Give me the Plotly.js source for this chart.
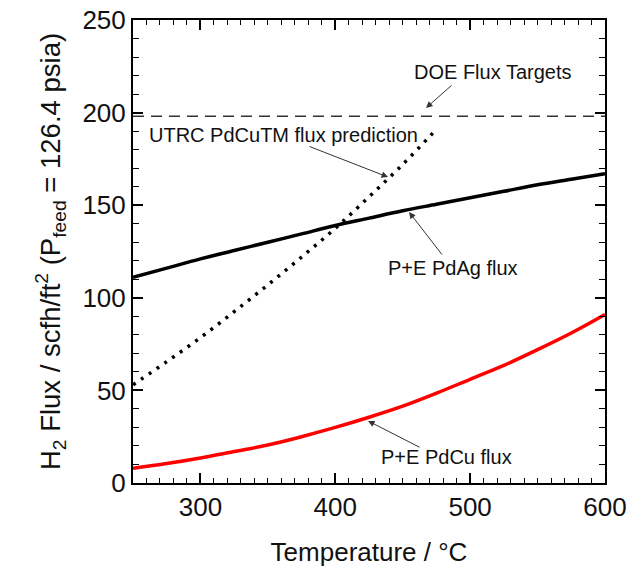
<!DOCTYPE html>
<html>
<head>
<meta charset="utf-8">
<script src="https://cdn.plot.ly/plotly-3.0.1.min.js"></script>
<style>html,body{margin:0;padding:0;background:#fff;}#chart{width:639px;height:577px;}</style>
</head>
<body>
<div id="chart"></div>
<script>
// Temperature (°C)
const temps = [250, 275, 300, 325, 350, 375, 400, 425, 450, 475, 500, 525, 550, 575, 600];
// P+E PdAg flux (scfh/ft2)
const pdAgFlux = [111, 116, 121, 125.5, 130, 134.5, 139, 143, 147, 150.5, 154, 157.5, 161, 164, 167];
// P+E PdCu flux
const pdCuFlux = [8, 10.5, 13.5, 17, 20.5, 25, 30, 35.5, 41.5, 48.5, 56, 63.5, 72, 81, 91];
// UTRC PdCuTM flux prediction
const utrcTemps = [250, 275, 300, 325, 350, 375, 400, 425, 450, 475];
const utrcFlux = [53, 65.5, 78.5, 92.5, 107, 122, 137.5, 154.5, 172, 191];
// DOE flux target
const doeTemps = [250, 600];
const doeFlux = [198, 198];

const font = "Liberation Sans, Arial, sans-serif";

const traces = [
  {x: doeTemps, y: doeFlux, mode: 'lines', line: {color: '#333', width: 1.6, dash: '11px,7px'}, hoverinfo: 'skip'},
  {x: utrcTemps, y: utrcFlux, mode: 'lines', line: {color: '#000', width: 3.5, dash: '3px,6.5px', shape: 'spline'}},
  {x: temps, y: pdAgFlux, mode: 'lines', line: {color: '#000', width: 3.5, shape: 'spline'}},
  {x: temps, y: pdCuFlux, mode: 'lines', line: {color: '#ff0000', width: 3.5, shape: 'spline'}}
];

function arrow(hx, hy, tx, ty) {
  return {x: hx, y: hy, ax: tx, ay: ty, xref: 'x', yref: 'y', axref: 'x', ayref: 'y',
    text: '', showarrow: true, arrowhead: 2, arrowsize: 1.3, arrowwidth: 1, arrowcolor: '#333'};
}
function label(x, y, text, anchor) {
  return {x: x, y: y, xref: 'x', yref: 'y', text: text, showarrow: false,
    xanchor: anchor || 'center', yanchor: 'middle', font: {family: font, size: 20, color: '#111'}};
}

const annotations = [
  label(516.9, 221.9, 'DOE Flux Targets'),
  arrow(467.3, 202.5, 487.3, 215.4),
  label(260.4, 187.9, 'UTRC PdCuTM flux prediction', 'left'),
  arrow(439.1, 165.2, 379.8, 182),
  label(487.3, 116.1, 'P+E PdAg flux'),
  arrow(454.7, 146.3, 479.9, 122.6),
  label(482.5, 14.0, 'P+E PdCu flux'),
  arrow(424.3, 33.5, 463.6, 18.9)
];

const layout = {
  width: 639, height: 577,
  margin: {l: 133, r: 34, t: 20, b: 94},
  paper_bgcolor: 'white', plot_bgcolor: 'white',
  showlegend: false,
  font: {family: font, color: '#111'},
  xaxis: {
    range: [250, 600], tickmode: 'linear', tick0: 300, dtick: 100,
    ticks: 'inside', ticklen: 10, tickwidth: 2, tickcolor: 'black',
    minor: {dtick: 10, ticks: 'inside', ticklen: 5, tickwidth: 1.3, tickcolor: 'black'},
    showline: true, linewidth: 2, linecolor: 'black', mirror: 'ticks',
    showgrid: false, zeroline: false,
    tickfont: {family: font, size: 26, color: '#111'},
    title: {text: 'Temperature / °C', font: {family: font, size: 26, color: '#111'}, standoff: 22}
  },
  yaxis: {
    range: [0, 250], tickmode: 'linear', tick0: 0, dtick: 50,
    ticks: 'inside', ticklen: 10, tickwidth: 2, tickcolor: 'black',
    minor: {dtick: 10, ticks: 'inside', ticklen: 6, tickwidth: 1.3, tickcolor: 'black'},
    showline: true, linewidth: 2, linecolor: 'black', mirror: 'ticks',
    showgrid: false, zeroline: false,
    tickfont: {family: font, size: 26, color: '#111'},
    title: {text: 'H<sub>2</sub> Flux / scfh/ft<sup>2</sup> (P<sub>feed</sub> = 126.4 psia)', font: {family: font, size: 27.5, color: '#111'}, standoff: 14}
  },
  annotations: annotations
};

Plotly.newPlot('chart', traces, layout, {displayModeBar: false});
</script>
</body>
</html>
